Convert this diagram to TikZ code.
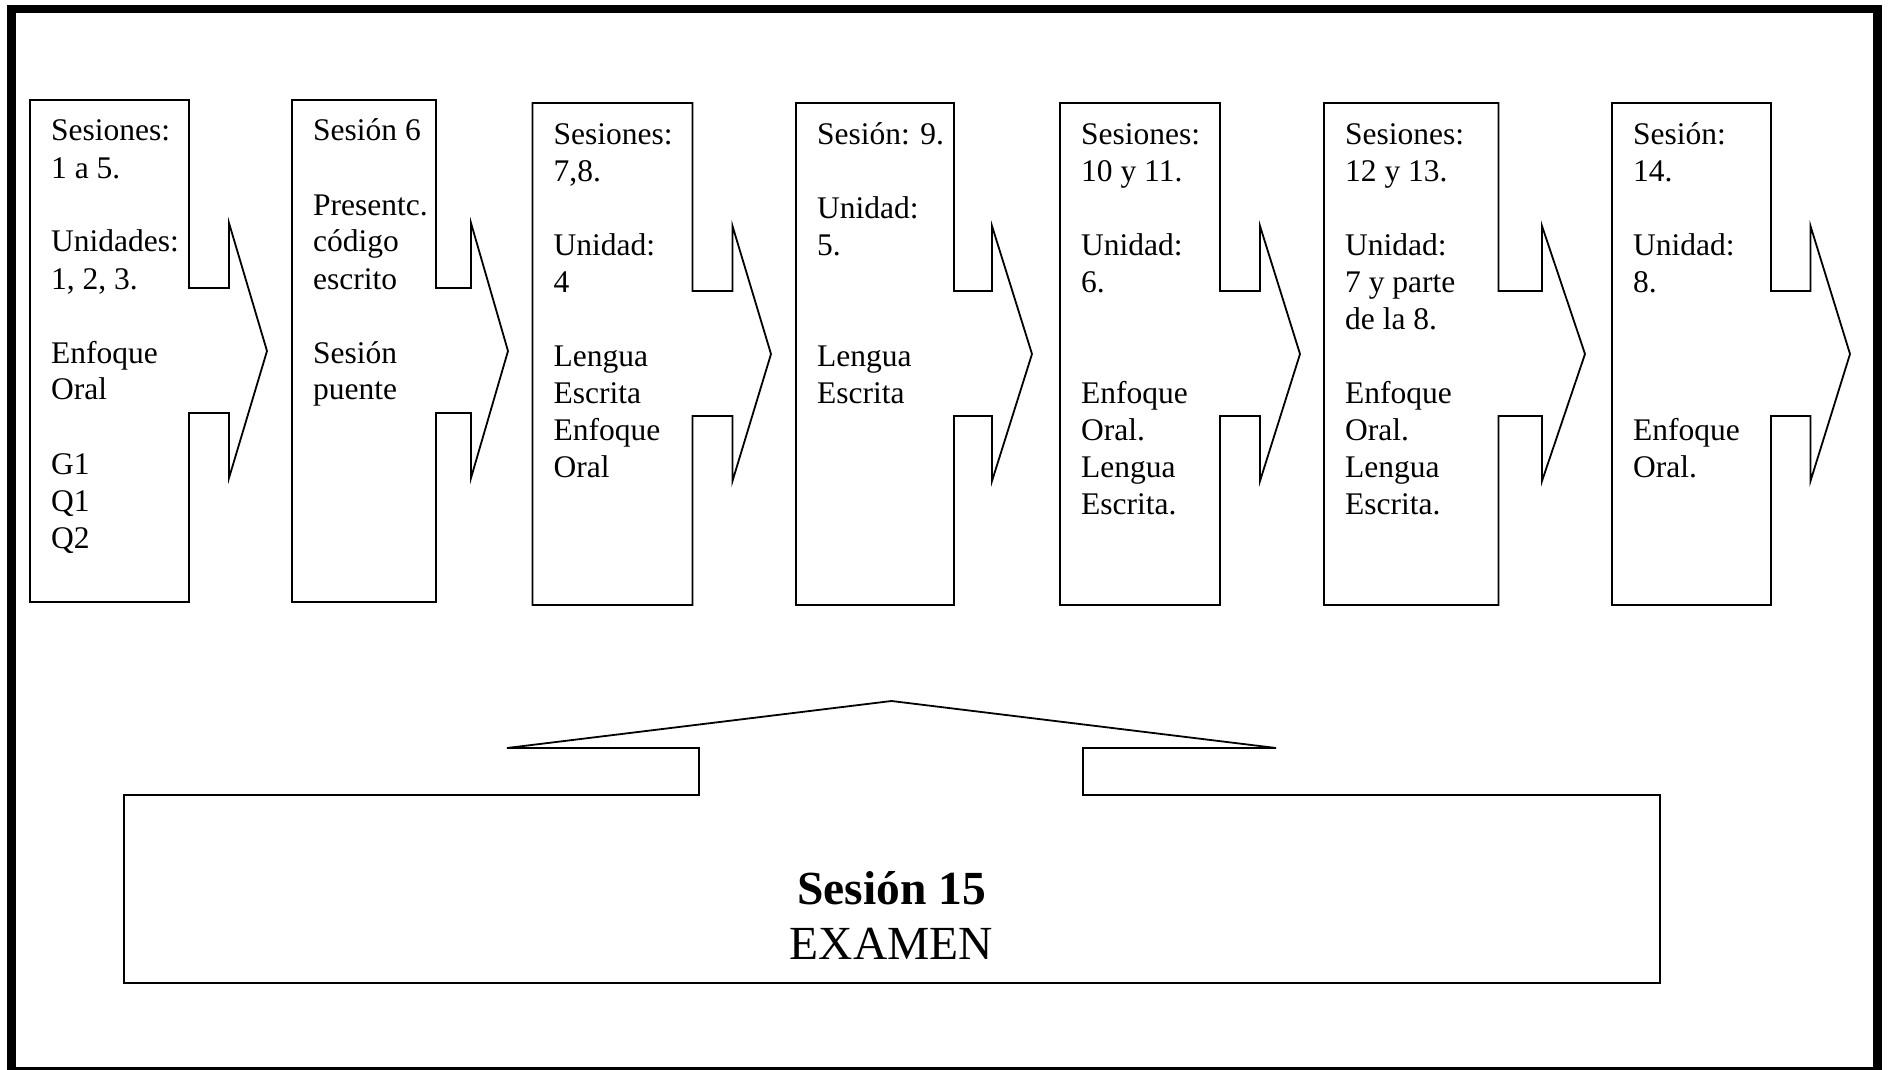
\documentclass[tikz,border=0pt]{standalone}
\usepackage{fontspec}
\setmainfont{Liberation Serif}
\begin{document}
\begin{tikzpicture}[x=1pt,y=-1pt,
  shapeline/.style={draw=black,line width=1.8pt,line join=miter},
  boxtext/.style={anchor=base west,inner sep=0pt,text width=200pt,align=flush left,
    font=\fontsize{31.5}{37}\selectfont},
  examtext/.style={anchor=base,inner sep=0pt,align=center,
    font=\fontsize{47.5}{55.5}\selectfont}]
\useasboundingbox (0,0) rectangle (1889,1070);
% outer frame
\draw[line width=8.5pt] (11.5,9) rectangle (1877.5,1071.5);

% right-arrow callout: #1 left, #2 right, #3 stub x, #4 tip x, #5 vertical shift
\newcommand\arrowbox[5]{%
  \draw[shapeline] (#1,100+#5) -- (#2,100+#5) -- (#2,288+#5) -- (#3,288+#5)
    -- (#3,223+#5) -- (#4,351+#5) -- (#3,478+#5) -- (#3,413+#5)
    -- (#2,413+#5) -- (#2,602+#5) -- (#1,602+#5) -- cycle;}

\arrowbox{30}{189}{229}{267}{0}
\arrowbox{292}{436}{471}{508}{0}
\arrowbox{532.5}{692.5}{732.5}{771}{3}
\arrowbox{796}{954}{992}{1032}{3}
\arrowbox{1060}{1220}{1260}{1300}{3}
\arrowbox{1324}{1498.5}{1542}{1585}{3}
\arrowbox{1612}{1771}{1810.5}{1850}{3}

\node[boxtext] (t1) at (51,141) {Sesiones:\\1 a 5.\\[\baselineskip]Unidades:\\1, 2, 3.\\[\baselineskip]Enfoque\\Oral\\[\baselineskip]G1\\Q1\\Q2};
\node[boxtext] (t2) at (313,141) {Sesión 6\\[\baselineskip]Presentc.\\código\\escrito\\[\baselineskip]Sesión\\puente};
\node[boxtext] (t3) at (553.5,144) {Sesiones:\\7,8.\\[\baselineskip]Unidad:\\4\\[\baselineskip]Lengua\\Escrita\\Enfoque\\Oral};
\node[boxtext] (t4) at (817,144) {Sesión: 9.\\[\baselineskip]Unidad:\\5.\\[2\baselineskip]Lengua\\Escrita};
\node[boxtext] (t5) at (1081,144) {Sesiones:\\10 y 11.\\[\baselineskip]Unidad:\\6.\\[2\baselineskip]Enfoque\\Oral.\\Lengua\\Escrita.};
\node[boxtext] (t6) at (1345,144) {Sesiones:\\12 y 13.\\[\baselineskip]Unidad:\\7 y parte\\de la 8.\\[\baselineskip]Enfoque\\Oral.\\Lengua\\Escrita.};
\node[boxtext] (t7) at (1633,144) {Sesión:\\14.\\[\baselineskip]Unidad:\\8.\\[3\baselineskip]Enfoque\\Oral.};

% up-arrow callout holding the exam
\draw[shapeline] (124,795) -- (699,795) -- (699,748) -- (507,748) -- (891.5,701)
  -- (1276,748) -- (1083,748) -- (1083,795) -- (1660,795) -- (1660,983)
  -- (124,983) -- cycle;
\node[examtext] (exam) at (891.5,959.5) {\textbf{Sesión 15}\\EXAMEN};
\end{tikzpicture}
\end{document}
